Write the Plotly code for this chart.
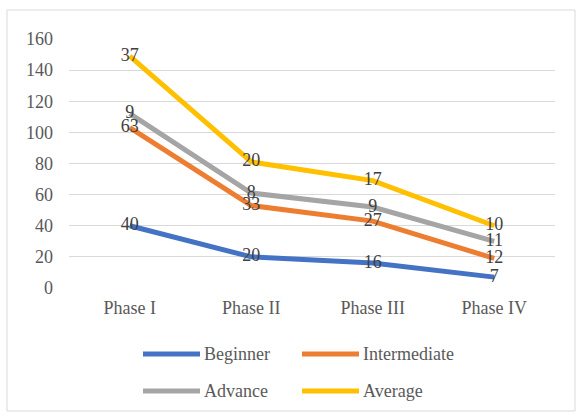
import numpy as np
import plotly.graph_objects as go

categories = ["Phase I", "Phase II", "Phase III", "Phase IV"]
series_names = ["Beginner", "Intermediate", "Advance", "Average"]
beginner = [40, 20, 16, 7]
intermediate = [63, 33, 27, 12]
advance = [9, 8, 9, 11]
average = [37, 20, 17, 10]
colors = ["#4472C4", "#ED7D31", "#A5A5A5", "#FFC000"]
y_ticks = [0, 20, 40, 60, 80, 100, 120, 140, 160]

values = [beginner, intermediate, advance, average]
cum = np.cumsum(np.array(values), axis=0)

W, H = 582, 417
L, R, T, B = 69, 555, 39, 288  # plot area in px

def px(x):
    return (x - L) / (R - L)

def py(y):
    return (B - y) / (B - T)

FONT = "Times New Roman, Liberation Serif, DejaVu Serif, serif"
fig = go.Figure()
for name, c, ys in zip(series_names, colors, cum):
    fig.add_trace(go.Scatter(x=categories, y=ys, mode="lines", name=name,
                             line=dict(color=c, width=5), showlegend=False,
                             hoverinfo="skip"))
for name, vals, ys in zip(series_names, values, cum):
    fig.add_trace(go.Scatter(x=categories, y=ys, mode="text", text=[str(v) for v in vals],
                             textposition="middle center", showlegend=False,
                             textfont=dict(family=FONT, size=18, color="#404040"),
                             hoverinfo="skip"))

shapes = [dict(type="rect", xref="paper", yref="paper", x0=px(7), x1=px(575),
               y0=py(411), y1=py(10), line=dict(color="#D9D9D9", width=1), layer="below")]
annotations = []
legend_pos = [(143, 354), (302, 354), (143, 391), (302, 391)]
for (lx, ly), name, c in zip(legend_pos, series_names, colors):
    shapes.append(dict(type="line", xref="paper", yref="paper", x0=px(lx), x1=px(lx + 57),
                       y0=py(ly), y1=py(ly), line=dict(color=c, width=5)))
    annotations.append(dict(xref="paper", yref="paper", x=px(lx + 59), y=py(ly),
                            xanchor="left", yanchor="middle", showarrow=False, text=name,
                            font=dict(family=FONT, size=18, color="#595959")))

fig.update_layout(
    width=W, height=H, margin=dict(l=L, r=W - R, t=T, b=H - B),
    paper_bgcolor="white", plot_bgcolor="white",
    shapes=shapes, annotations=annotations,
    xaxis=dict(type="category", range=[-0.5, 3.5], showgrid=False, zeroline=False,
               showline=False, ticks="", tickfont=dict(family=FONT, size=18, color="#595959"),
               ticklabelstandoff=7),
    yaxis=dict(range=[0, 160], tickvals=y_ticks, showgrid=True, gridcolor="#D9D9D9",
               gridwidth=1, zeroline=False, showline=False, ticks="",
               tickfont=dict(family=FONT, size=18, color="#595959"), ticklabelstandoff=15),
)
fig.write_html("out.html")
